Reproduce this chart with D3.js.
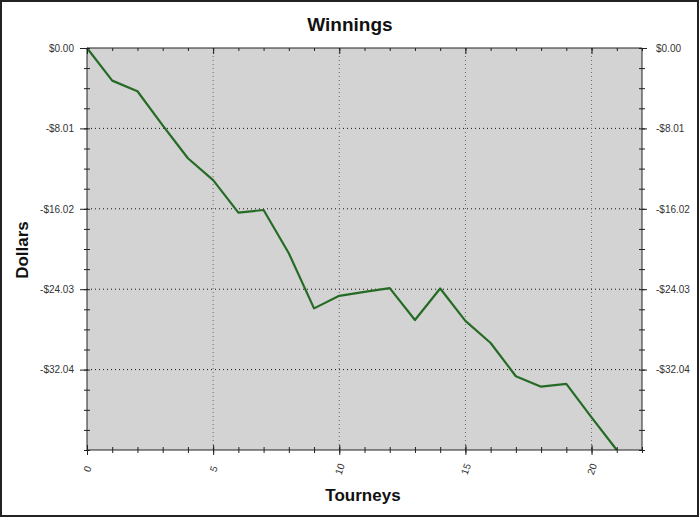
<!DOCTYPE html>
<html><head><meta charset="utf-8">
<script src="https://cdn.jsdelivr.net/npm/d3@7"></script>
<style>
body{margin:0;background:#fff;}
svg{display:block;font-family:Arial,"Liberation Sans",sans-serif;}
</style></head>
<body><svg id="c" width="700" height="518"></svg>
<script>
const tourneys = [0,1,2,3,4,5,6,7,8,9,10,11,12,13,14,15,16,17,18,19,20,21];
const winnings = [0,-3.25,-4.31,-7.7,-10.98,-13.16,-16.40,-16.14,-20.45,-25.94,-24.69,-24.29,-23.92,-27.10,-23.96,-27.18,-29.39,-32.70,-33.74,-33.47,-36.80,-40.05];
const yMajor = [0,-8.01,-16.02,-24.03,-32.04];
const yLabels = ["$0.00","-$8.01","-$16.02","-$24.03","-$32.04"];
const xMajor = [0,5,10,15,20];
const title = "Winnings", xTitle = "Tourneys", yTitle = "Dollars";

const svg = d3.select("#c");
const L=87,R=642,T=48,B=450;
const x = d3.scaleLinear().domain([0,22]).range([L,R]);
const y = d3.scaleLinear().domain([-40.05,0]).range([B,T]);
const yMinor = d3.range(0,21).map(i=>-i*2.0025);
const xMinor = d3.range(0,23);

// outer border
svg.append("rect").attr("x",1).attr("y",1).attr("width",697).attr("height",515)
  .attr("fill","#fff").attr("stroke","#222").attr("stroke-width",2);

// plot background
svg.append("rect").attr("x",L).attr("y",T).attr("width",R-L).attr("height",B-T).attr("fill","#d3d3d3");

// grid
svg.append("g").selectAll("line").data(yMajor.slice(1)).join("line")
  .attr("x1",L).attr("x2",R).attr("y1",d=>y(d)).attr("y2",d=>y(d))
  .attr("stroke","#111").attr("stroke-width",1).attr("stroke-dasharray","1,3");
svg.append("g").selectAll("line").data(xMajor.slice(1)).join("line")
  .attr("x1",d=>x(d)).attr("x2",d=>x(d)).attr("y1",T).attr("y2",B)
  .attr("stroke","#666").attr("stroke-width",1).attr("stroke-dasharray","1,3");

// line
svg.append("path").datum(tourneys.map((t,i)=>[t,winnings[i]]))
  .attr("fill","none").attr("stroke","#256b25").attr("stroke-width",2.2)
  .attr("stroke-linejoin","round")
  .attr("d",d3.line().x(d=>x(d[0])).y(d=>y(d[1])));

function styleAxis(g){g.selectAll("path,line").attr("stroke","#222");g.selectAll("text").attr("fill","#333").attr("font-size",10);}

// left axis
const gl = svg.append("g").attr("transform",`translate(${L},0)`);
gl.call(d3.axisLeft(y).tickValues(yMinor).tickSize(3).tickFormat(""));
gl.selectAll(".tick line").attr("x1",3);
gl.call(g=>g.select(".domain").remove());
const glM = svg.append("g").attr("transform",`translate(${L},0)`)
  .call(d3.axisLeft(y).tickValues(yMajor).tickSizeInner(7).tickSizeOuter(0).tickPadding(6).tickFormat((d,i)=>yLabels[i]));
glM.select(".domain").attr("d",`M0,${T}V${B}`);
styleAxis(gl);styleAxis(glM);

// right axis
const gr = svg.append("g").attr("transform",`translate(${R},0)`)
  .call(d3.axisRight(y).tickValues(yMinor).tickSize(3).tickFormat(""));
gr.selectAll(".tick line").attr("x1",-3);
gr.select(".domain").remove();
const grM = svg.append("g").attr("transform",`translate(${R},0)`)
  .call(d3.axisRight(y).tickValues(yMajor).tickSizeInner(5).tickSizeOuter(0).tickPadding(9).tickFormat((d,i)=>yLabels[i]));
grM.select(".domain").attr("d",`M0,${T}V${B}`);
styleAxis(gr);styleAxis(grM);

// bottom axis
const gb = svg.append("g").attr("transform",`translate(0,${B})`)
  .call(d3.axisBottom(x).tickValues(xMinor).tickSize(3).tickFormat(""));
gb.selectAll(".tick line").attr("y1",-3);
gb.select(".domain").remove();
const gbM = svg.append("g").attr("transform",`translate(0,${B})`)
  .call(d3.axisBottom(x).tickValues(xMajor).tickSizeInner(5).tickSizeOuter(0).tickFormat(d3.format("d")));
gbM.selectAll(".tick line").attr("y1",-5);
gbM.select(".domain").attr("d",`M${L},0H${R}`);
gbM.selectAll(".tick text").attr("transform","translate(0,19) rotate(-70)").attr("dy","0.35em").attr("y",0).attr("text-anchor","middle");
styleAxis(gb);styleAxis(gbM);

// top axis
const gt = svg.append("g").attr("transform",`translate(0,${T})`)
  .call(d3.axisBottom(x).tickValues(xMinor).tickSize(3).tickFormat(""));
gt.select(".domain").remove();
const gtM = svg.append("g").attr("transform",`translate(0,${T})`)
  .call(d3.axisBottom(x).tickValues(xMajor).tickSizeInner(6).tickSizeOuter(0).tickFormat(""));
gtM.select(".domain").attr("d",`M${L},0H${R}`);
styleAxis(gt);styleAxis(gtM);

// titles
svg.append("text").attr("x",350).attr("y",31).attr("text-anchor","middle")
  .attr("font-size",19).attr("font-weight","bold").attr("fill","#111").text(title);
svg.append("text").attr("x",363).attr("y",501).attr("text-anchor","middle")
  .attr("font-size",17).attr("font-weight","bold").attr("fill","#111").text(xTitle);
svg.append("text").attr("transform","translate(28,250) rotate(-90)").attr("text-anchor","middle")
  .attr("font-size",17).attr("font-weight","bold").attr("fill","#111").text(yTitle);
</script></body></html>
